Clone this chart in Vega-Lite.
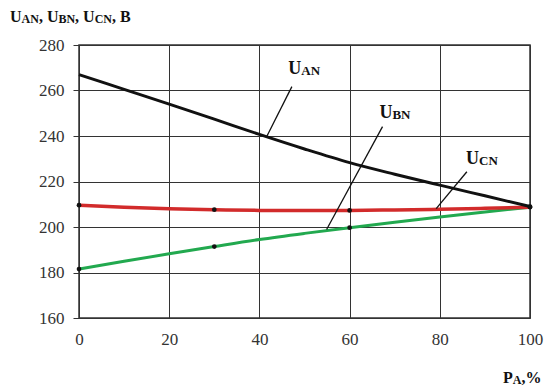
{
  "$schema": "https://vega.github.io/schema/vega-lite/v6.json",
  "width": 451,
  "height": 273,
  "autosize": "none",
  "padding": {"left": 79, "top": 45, "right": 18, "bottom": 71},
  "background": "white",
  "config": {
    "view": {"stroke": "#333", "strokeWidth": 1.5},
    "font": "Liberation Serif, Times New Roman, serif"
  },
  "datasets": {
    "curves": [
      {"series": "U_AN", "P": 0, "U": 267.0},
      {"series": "U_AN", "P": 10, "U": 260.5},
      {"series": "U_AN", "P": 20, "U": 254.0},
      {"series": "U_AN", "P": 30, "U": 247.4},
      {"series": "U_AN", "P": 40, "U": 240.7},
      {"series": "U_AN", "P": 50, "U": 234.3},
      {"series": "U_AN", "P": 60, "U": 228.3},
      {"series": "U_AN", "P": 70, "U": 223.2},
      {"series": "U_AN", "P": 80, "U": 218.4},
      {"series": "U_AN", "P": 90, "U": 213.7},
      {"series": "U_AN", "P": 100, "U": 209.0},
      {"series": "U_CN", "P": 0, "U": 209.6},
      {"series": "U_CN", "P": 10, "U": 208.7},
      {"series": "U_CN", "P": 20, "U": 208.0},
      {"series": "U_CN", "P": 30, "U": 207.6},
      {"series": "U_CN", "P": 40, "U": 207.3},
      {"series": "U_CN", "P": 50, "U": 207.2},
      {"series": "U_CN", "P": 60, "U": 207.3},
      {"series": "U_CN", "P": 70, "U": 207.5},
      {"series": "U_CN", "P": 80, "U": 207.8},
      {"series": "U_CN", "P": 90, "U": 208.2},
      {"series": "U_CN", "P": 100, "U": 208.7},
      {"series": "U_BN", "P": 0, "U": 181.5},
      {"series": "U_BN", "P": 10, "U": 184.9},
      {"series": "U_BN", "P": 20, "U": 188.2},
      {"series": "U_BN", "P": 30, "U": 191.4},
      {"series": "U_BN", "P": 40, "U": 194.5},
      {"series": "U_BN", "P": 50, "U": 197.2},
      {"series": "U_BN", "P": 60, "U": 199.7},
      {"series": "U_BN", "P": 70, "U": 202.1},
      {"series": "U_BN", "P": 80, "U": 204.4},
      {"series": "U_BN", "P": 90, "U": 206.6},
      {"series": "U_BN", "P": 100, "U": 208.7}
    ],
    "markers": [
      {"series": "U_CN", "P": 0, "U": 209.6},
      {"series": "U_CN", "P": 30, "U": 207.6},
      {"series": "U_CN", "P": 60, "U": 207.3},
      {"series": "U_CN", "P": 100, "U": 208.7},
      {"series": "U_BN", "P": 0, "U": 181.5},
      {"series": "U_BN", "P": 30, "U": 191.4},
      {"series": "U_BN", "P": 60, "U": 199.7},
      {"series": "U_AN", "P": 100, "U": 209.0}
    ],
    "labels": [
      {"main": "U", "sub": "AN", "P": 49.3, "U": 267.2},
      {"main": "U", "sub": "BN", "P": 69.5, "U": 247.7},
      {"main": "U", "sub": "CN", "P": 88.7, "U": 227.6}
    ],
    "leaders": [
      {"P": 47.2, "U": 261.7, "P2": 41.6, "U2": 239.7},
      {"P": 67.3, "U": 244.1, "P2": 54.9, "U2": 198.9},
      {"P": 86.0, "U": 224.3, "P2": 79.2, "U2": 208.1}
    ],
    "titles": [
      {"t": "U", "k": "main", "P": -15.30, "U": 290.1},
      {"t": "AN", "k": "sub", "P": -12.74, "U": 290.1},
      {"t": ",", "k": "main", "P": -8.89, "U": 290.1},
      {"t": "U", "k": "main", "P": -7.12, "U": 290.1},
      {"t": "BN", "k": "sub", "P": -4.56, "U": 290.1},
      {"t": ",", "k": "main", "P": -0.86, "U": 290.1},
      {"t": "U", "k": "main", "P": 0.91, "U": 290.1},
      {"t": "CN", "k": "sub", "P": 3.47, "U": 290.1},
      {"t": ",", "k": "main", "P": 7.31, "U": 290.1},
      {"t": "B", "k": "main", "P": 9.09, "U": 290.1},
      {"t": "P", "k": "main", "P": 94.0, "U": 131.5},
      {"t": "A", "k": "sub", "P": 96.19, "U": 131.5},
      {"t": ",%", "k": "main", "P": 98.1, "U": 131.5}
    ]
  },
  "layer": [
    {
      "data": {"name": "curves"},
      "transform": [{"filter": "datum.series === 'U_BN'"}],
      "mark": {"type": "line", "color": "#22a94f", "strokeWidth": 3, "interpolate": "monotone"},
      "encoding": {
        "x": {
          "field": "P", "type": "quantitative",
          "scale": {"domain": [0, 100], "nice": false},
          "axis": {
            "values": [0, 20, 40, 60, 80, 100], "grid": true, "gridColor": "#333", "gridWidth": 1,
            "domain": false, "ticks": false, "tickSize": 0, "labelPadding": 13,
            "labelFont": "Liberation Serif, Times New Roman, serif", "labelFontSize": 17, "labelColor": "#333",
            "labelFontWeight": "normal", "labelFlush": false, "title": null
          }
        },
        "y": {
          "field": "U", "type": "quantitative",
          "scale": {"domain": [160, 280], "nice": false, "zero": false},
          "axis": {
            "values": [160, 180, 200, 220, 240, 260, 280], "grid": true, "gridColor": "#333", "gridWidth": 1,
            "domain": false, "ticks": true, "tickSize": 6, "tickColor": "#333", "labelPadding": 9,
            "labelFont": "Liberation Serif, Times New Roman, serif", "labelFontSize": 17, "labelColor": "#333",
            "labelFontWeight": "normal", "labelFlush": false, "title": null
          }
        }
      }
    },
    {
      "data": {"name": "curves"},
      "transform": [{"filter": "datum.series === 'U_CN'"}],
      "mark": {"type": "line", "color": "#d22b2b", "strokeWidth": 3.5, "interpolate": "monotone"},
      "encoding": {
        "x": {"field": "P", "type": "quantitative"},
        "y": {"field": "U", "type": "quantitative"}
      }
    },
    {
      "data": {"name": "curves"},
      "transform": [{"filter": "datum.series === 'U_AN'"}],
      "mark": {"type": "line", "color": "#111", "strokeWidth": 3, "interpolate": "monotone"},
      "encoding": {
        "x": {"field": "P", "type": "quantitative"},
        "y": {"field": "U", "type": "quantitative"}
      }
    },
    {
      "data": {"name": "markers"},
      "mark": {"type": "point", "filled": true, "color": "#111", "size": 22, "opacity": 1},
      "encoding": {
        "x": {"field": "P", "type": "quantitative"},
        "y": {"field": "U", "type": "quantitative"}
      }
    },
    {
      "data": {"name": "leaders"},
      "mark": {"type": "rule", "color": "#111", "strokeWidth": 1.3},
      "encoding": {
        "x": {"field": "P", "type": "quantitative"},
        "y": {"field": "U", "type": "quantitative"},
        "x2": {"field": "P2"},
        "y2": {"field": "U2"}
      }
    },
    {
      "data": {"name": "labels"},
      "mark": {"type": "text", "align": "right", "baseline": "alphabetic", "font": "Liberation Serif, Times New Roman, serif", "fontWeight": "bold", "fontSize": 18, "color": "#111"},
      "encoding": {
        "x": {"field": "P", "type": "quantitative"},
        "y": {"field": "U", "type": "quantitative"},
        "text": {"field": "main"}
      }
    },
    {
      "data": {"name": "labels"},
      "mark": {"type": "text", "align": "left", "baseline": "alphabetic", "dy": 1, "font": "Liberation Serif, Times New Roman, serif", "fontWeight": "bold", "fontSize": 13, "color": "#111"},
      "encoding": {
        "x": {"field": "P", "type": "quantitative"},
        "y": {"field": "U", "type": "quantitative"},
        "text": {"field": "sub"}
      }
    },
    {
      "data": {"name": "titles"},
      "transform": [{"filter": "datum.k === 'main'"}],
      "mark": {"type": "text", "align": "left", "baseline": "alphabetic", "font": "Liberation Serif, Times New Roman, serif", "fontWeight": "bold", "fontSize": 16, "color": "#111", "clip": false},
      "encoding": {
        "x": {"field": "P", "type": "quantitative"},
        "y": {"field": "U", "type": "quantitative"},
        "text": {"field": "t"}
      }
    },
    {
      "data": {"name": "titles"},
      "transform": [{"filter": "datum.k === 'sub'"}],
      "mark": {"type": "text", "align": "left", "baseline": "alphabetic", "dy": 1, "font": "Liberation Serif, Times New Roman, serif", "fontWeight": "bold", "fontSize": 12, "color": "#111", "clip": false},
      "encoding": {
        "x": {"field": "P", "type": "quantitative"},
        "y": {"field": "U", "type": "quantitative"},
        "text": {"field": "t"}
      }
    }
  ]
}
